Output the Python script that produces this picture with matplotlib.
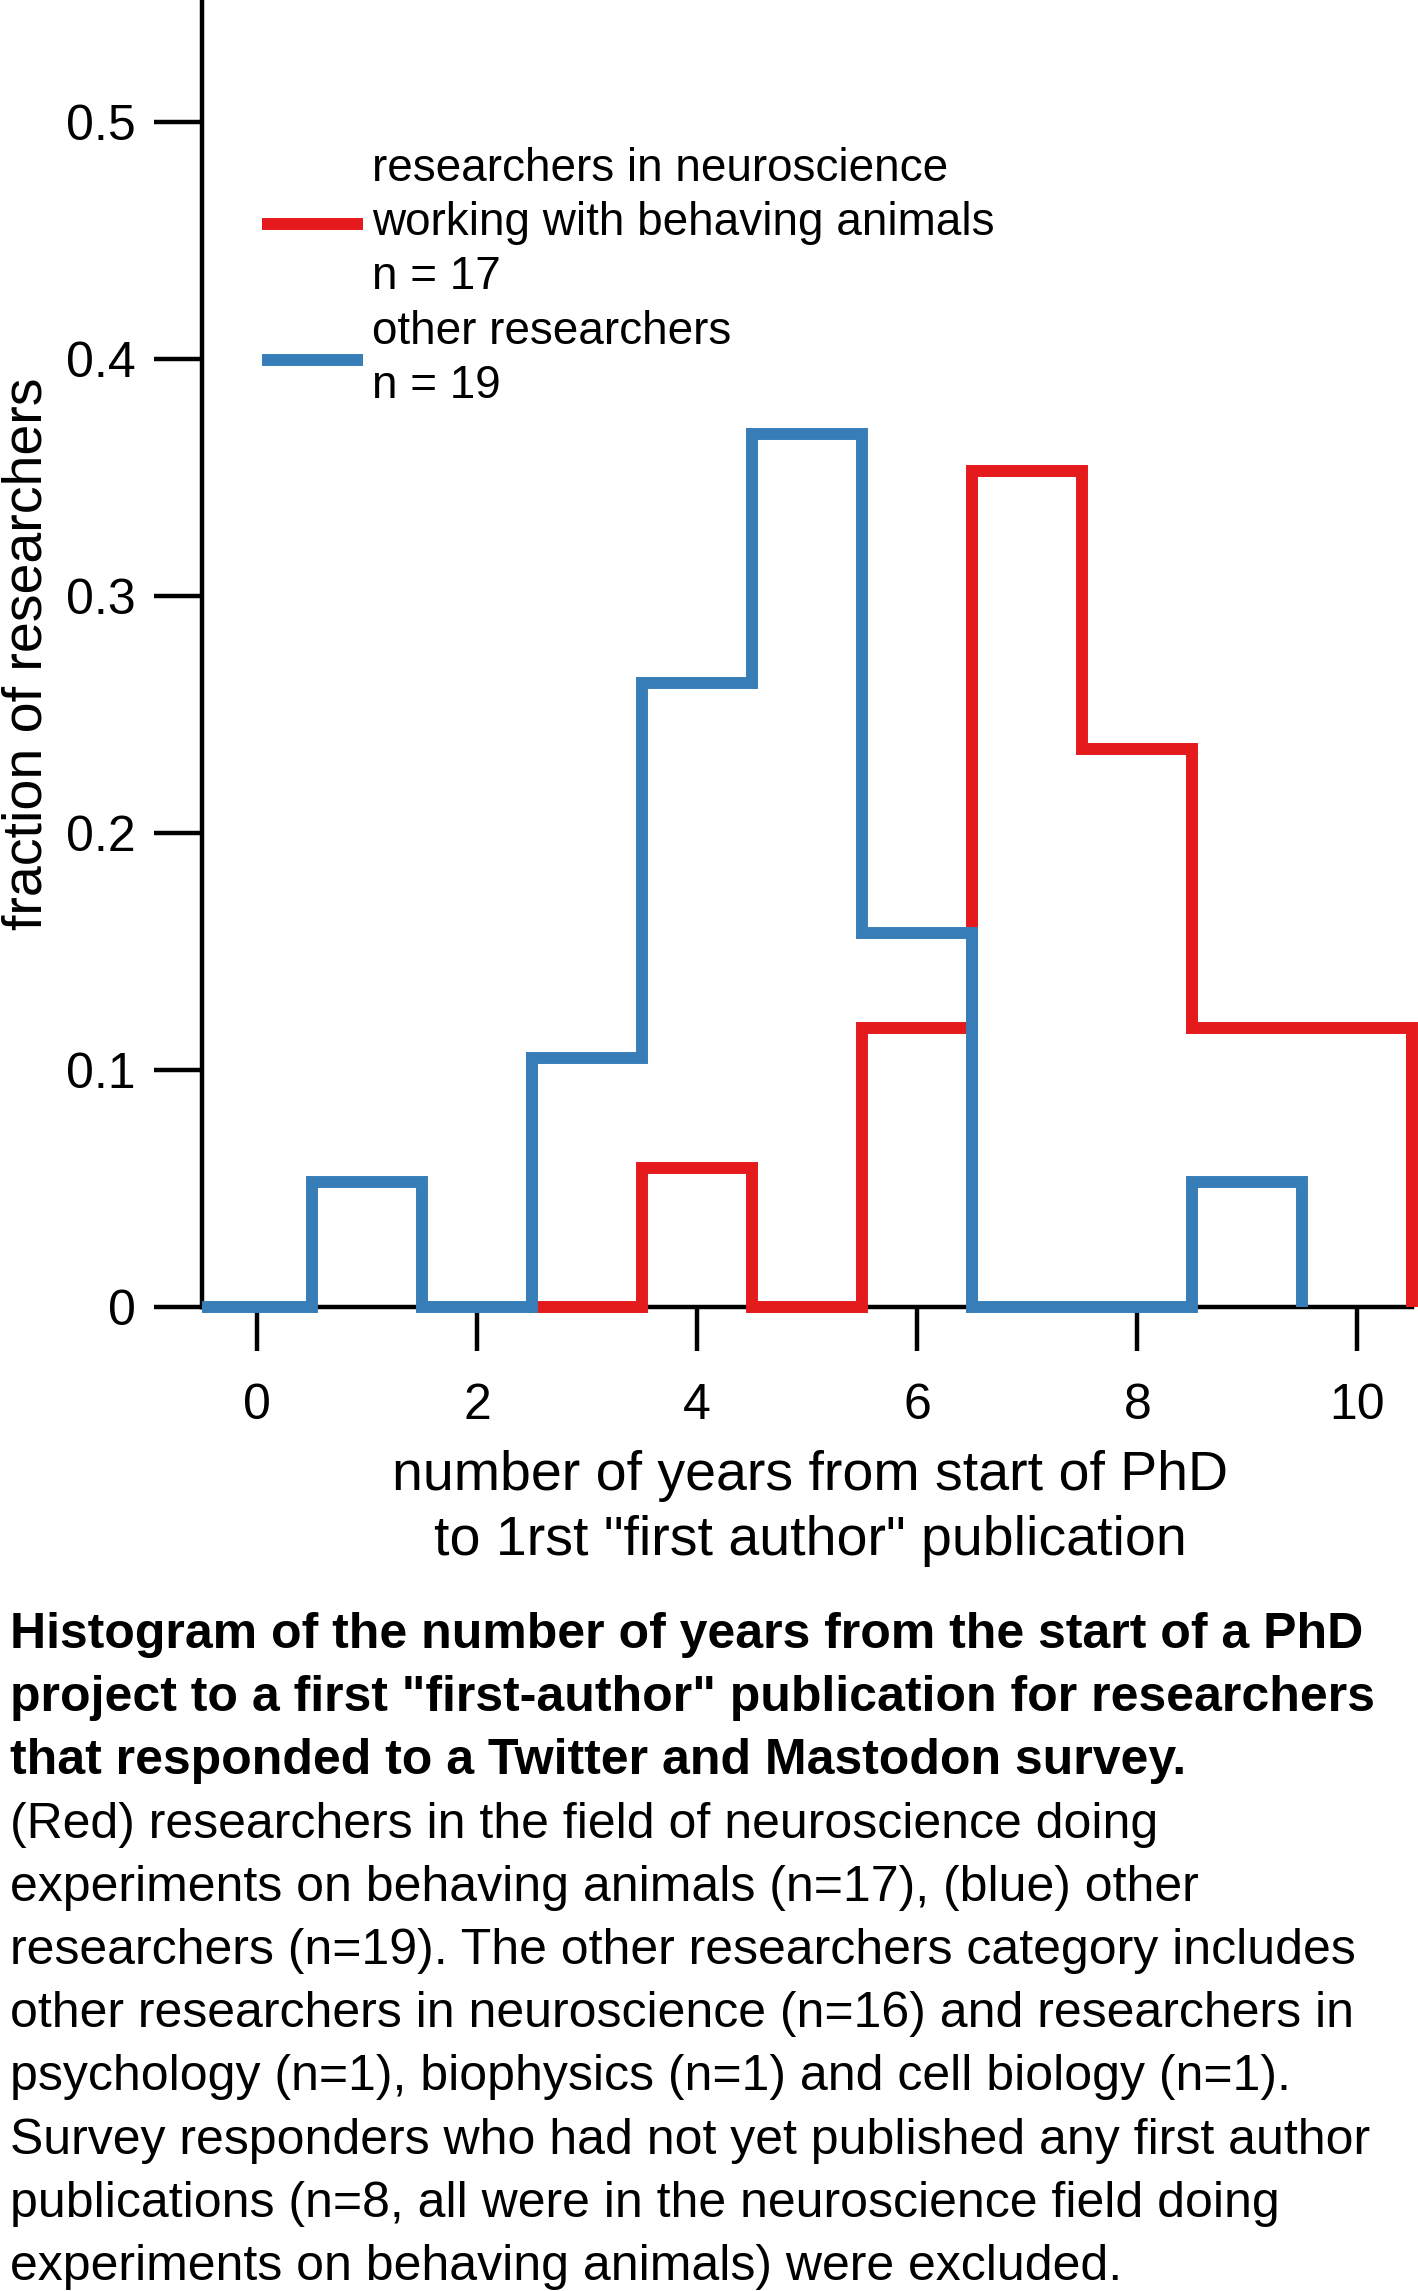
import matplotlib
matplotlib.use('Agg')
import matplotlib.pyplot as plt
import numpy as np

plt.rcParams['font.family'] = ['Liberation Sans', 'DejaVu Sans']

# histogram counts, one bin per year
years_neuro = [3, 4, 5, 6, 7, 8, 9, 10]
counts_neuro = [0, 1, 0, 2, 6, 4, 2, 2]
n_neuro = 17

years_other = [0, 1, 2, 3, 4, 5, 6, 7, 8, 9]
counts_other = [0, 1, 0, 2, 5, 7, 3, 0, 0, 1]
n_other = 19

red = '#E41A1C'
blue = '#377EB8'

yticks = [0, 0.1, 0.2, 0.3, 0.4, 0.5]
ytick_labels = ['0', '0.1', '0.2', '0.3', '0.4', '0.5']
xticks = [0, 2, 4, 6, 8, 10]

caption = [
    ('Histogram of the number of years from the start of a PhD', 'bold'),
    ('project to a first "first-author" publication for researchers', 'bold'),
    ('that responded to a Twitter and Mastodon survey.', 'bold'),
    ('(Red) researchers in the field of neuroscience doing', 'normal'),
    ('experiments on behaving animals (n=17), (blue) other', 'normal'),
    ('researchers (n=19). The other researchers category includes', 'normal'),
    ('other researchers in neuroscience (n=16) and researchers in', 'normal'),
    ('psychology (n=1), biophysics (n=1) and cell biology (n=1).', 'normal'),
    ('Survey responders who had not yet published any first author', 'normal'),
    ('publications (n=8, all were in the neuroscience field doing', 'normal'),
    ('experiments on behaving animals) were excluded.', 'normal'),
]

W, H = 1418, 2291
fig = plt.figure(figsize=(W / 100, H / 100), dpi=100)
ax = fig.add_axes([202 / W, 1 - 1307 / H, 1 - 202 / W, 1307 / H])

def edges(years):
    y = np.array(years, dtype=float)
    return np.append(y - 0.5, y[-1] + 0.5)

frac_neuro = np.array(counts_neuro) / n_neuro
frac_other = np.array(counts_other) / n_other

lw = 8.6
h_red = ax.stairs(frac_neuro, edges(years_neuro), baseline=0, color=red,
                  linewidth=lw, clip_on=False, zorder=3)
h_blue = ax.stairs(frac_other, edges(years_other), baseline=0, color=blue,
                   linewidth=lw, clip_on=False, zorder=4)
for h in (h_red, h_blue):
    h.set_joinstyle('miter')
    h.set_capstyle('butt')

ax.set_xlim(-0.5, 10.55)
ax.set_ylim(0, 0.5515)

for s in ('top', 'right'):
    ax.spines[s].set_visible(False)
for s in ('left', 'bottom'):
    ax.spines[s].set_linewidth(3.2)
ax.spines['bottom'].set_bounds(-0.5, 10.5)

ax.set_yticks(yticks)
ax.set_yticklabels(ytick_labels)
ax.set_xticks(xticks)
ax.tick_params(axis='y', length=34.6, width=3.2, pad=13, labelsize=36)
ax.tick_params(axis='x', length=31.7, width=3.2, pad=23, labelsize=36)

ax.set_xlabel('number of years from start of PhD\nto 1rst "first author" publication',
              fontsize=40, linespacing=1.32, labelpad=15)
ax.set_ylabel('fraction of researchers', fontsize=40)
ax.yaxis.set_label_coords(-148 / (W - 202), 0.5)

leg = fig.legend([h_red, h_blue],
                 ['researchers in neuroscience\nworking with behaving animals\nn = 17',
                  'other researchers\nn = 19'],
                 loc='upper left', bbox_to_anchor=(262 / W, 1 - 147 / H),
                 frameon=False, fontsize=33, handlelength=2.2,
                 handletextpad=0.2, labelspacing=0.25, borderpad=0,
                 borderaxespad=0)
for t in leg.get_texts():
    t.set_linespacing(1.29)
for line in leg.get_lines():
    line.set_linewidth(lw)
    line.set_solid_capstyle('butt')

y0 = 1635
step = 63.2
for i, (txt, weight) in enumerate(caption):
    fig.text(10 / W, 1 - (y0 + i * step) / H, txt, fontsize=36,
             fontweight=weight, ha='left', va='center')

fig.savefig('out.png', dpi=100)
